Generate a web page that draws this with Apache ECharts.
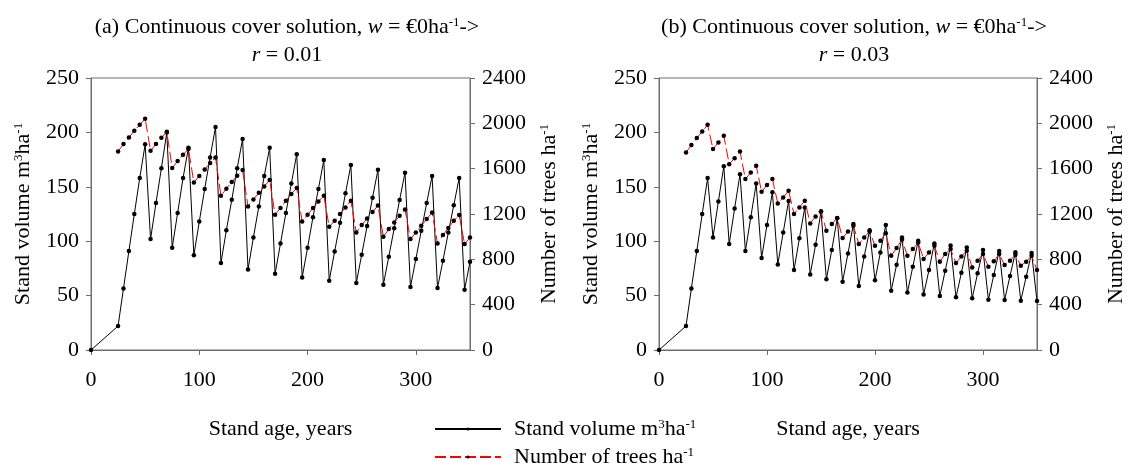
<!DOCTYPE html>
<html>
<head>
<meta charset="utf-8">
<script src="https://cdn.jsdelivr.net/npm/echarts@6/dist/echarts.min.js"></script>
<style>html,body{margin:0;padding:0;background:#fff;}#c{width:1138px;height:468px;}</style>
</head>
<body>
<div id="c"></div>
<script>
// Stand age (years) for the number-of-trees series
const ages = [25,30,35,40,45,50,55,60,65,70,75,80,85,90,95,100,105,110,115,120,125,130,135,140,145,150,155,160,165,170,175,180,185,190,195,200,205,210,215,220,225,230,235,240,245,250,255,260,265,270,275,280,285,290,295,300,305,310,315,320,325,330,335,340,345,350];
// Stand age (years) for the volume series (starts at 0)
const agesVol = [0,25,30,35,40,45,50,55,60,65,70,75,80,85,90,95,100,105,110,115,120,125,130,135,140,145,150,155,160,165,170,175,180,185,190,195,200,205,210,215,220,225,230,235,240,245,250,255,260,265,270,275,280,285,290,295,300,305,310,315,320,325,330,335,340,345,350];

// (a) r = 0.01
const volA = [0,22,56.6,91,125,158,189,102,135,167,200,94,126,158,186,87,118,148,177,205,80,110,138,167,194,74,103.5,132,160,186,70,98,126,153,180,66.7,94,122,148,174.6,63.7,90.6,117,144,170,61.6,87.6,114,140,165.7,60,85.8,111.8,137.9,163,58,83.6,109.6,135,160,57,82,108,133,158,55.4,81];
const treesA = [1752,1817,1875,1934,1987,2040,1758,1817,1872,1925,1605,1667,1722,1773,1478,1535,1593,1649,1699,1361,1423,1482,1537,1588,1267,1328,1387,1443,1499,1193,1252,1317,1376,1429,1134,1193,1252,1311,1361,1087,1140,1199,1258,1317,1037,1102,1161,1217,1275,999,1067,1125,1184,1240,979,1037,1096,1155,1214,940,1014,1076,1140,1191,935,993];

// (b) r = 0.03
const volB = [0,22,56.6,91,125,158,103.5,136.6,168.8,97.4,130,161.5,91,122,153,84.5,115,145,78.6,108,137,73.5,102.6,131,69.5,96.8,127,65,92,121,62.8,88.8,115.8,58.8,86,110,64,89.7,115,54.5,78.4,103.5,52.8,76.5,100.5,51,73.5,98,49.6,72.9,96,48.4,71,94.3,47.5,70.5,92,46.2,69,91,46,68,89.8,45.3,67.4,89.2,45];
const treesB = [1743,1808,1870,1928,1987,1773,1831,1890,1640,1693,1752,1508,1566,1625,1396,1455,1508,1293,1346,1405,1200,1258,1317,1117,1178,1225,1052,1111,1165,988,1046,1096,935,993,1046,920,964,1030,832,900,975,832,891,949,803,861,920,779,847,891,767,826,876,729,788,847,735,782,847,750,788,841,744,779,832,705];

// axis settings / tick labels
const xTicks = {min: 0, max: 350, interval: 100};
const volTicks = {min: 0, max: 250, interval: 50};
const treeTicks = {min: 0, max: 2400, interval: 400};

const FONT = 'Liberation Serif';
const FS = 22;
const AX = '#6e6e6e';
const rich = {
  n: {fontFamily: FONT, fontSize: FS, color: '#000', fontWeight: 'normal'},
  i: {fontFamily: FONT, fontSize: FS, color: '#000', fontStyle: 'italic', fontWeight: 'normal'},
  s: {fontFamily: FONT, fontSize: 13, color: '#000', verticalAlign: 'top', fontWeight: 'normal'}
};

function pairs(x, y) { return x.map((v, k) => [v, y[k]]); }

const grids = [
  {left: 91, right: 668, top: 78, bottom: 118},
  {left: 659, right: 101, top: 78, bottom: 118}
];

const labelStyle = {fontFamily: FONT, fontSize: FS, color: '#000', margin: 12};

function xAxis(gi) {
  return {
    type: 'value', gridIndex: gi, min: xTicks.min, max: xTicks.max, interval: xTicks.interval,
    name: 'Stand age, years', nameLocation: 'middle', nameGap: 68,
    nameTextStyle: {fontFamily: FONT, fontSize: FS, color: '#000'},
    axisLine: {show: true, onZero: false, lineStyle: {color: AX, width: 1}},
    axisTick: {show: true, length: 5, lineStyle: {color: AX}},
    axisLabel: Object.assign({showMaxLabel: false, formatter: v => String(v)}, labelStyle, {margin: 19}),
    splitLine: {show: false}
  };
}
function yVol(gi) {
  return {
    type: 'value', gridIndex: gi, position: 'left', min: volTicks.min, max: volTicks.max, interval: volTicks.interval,
    name: '{n|Stand volume m}{s|3}{n|ha}{s|-1}', nameLocation: 'middle', nameRotate: 90, nameGap: 57,
    nameTextStyle: {rich: rich},
    axisLine: {show: true, onZero: false, lineStyle: {color: AX, width: 1}},
    axisTick: {show: true, length: 5, lineStyle: {color: AX}},
    axisLabel: Object.assign({formatter: v => String(v)}, labelStyle),
    splitLine: {show: false}
  };
}
function yTrees(gi) {
  return {
    type: 'value', gridIndex: gi, position: 'right', min: treeTicks.min, max: treeTicks.max, interval: treeTicks.interval,
    name: '{n|Number of trees ha}{s|-1}', nameLocation: 'middle', nameRotate: 90, nameGap: 68,
    nameTextStyle: {rich: rich},
    axisLine: {show: true, onZero: false, lineStyle: {color: AX, width: 1}},
    axisTick: {show: true, length: 5, lineStyle: {color: AX}},
    axisLabel: Object.assign({formatter: v => String(v)}, labelStyle),
    splitLine: {show: false}
  };
}

function volSeries(xi, yi, data) {
  return {
    name: 'vol', type: 'line', xAxisIndex: xi, yAxisIndex: yi, data: data,
    symbol: 'circle', symbolSize: 4.5, showAllSymbol: true,
    lineStyle: {color: '#000', width: 1}, itemStyle: {color: '#000'}, z: 2
  };
}
function treeSeries(xi, yi, data) {
  return {
    name: 'trees', type: 'line', xAxisIndex: xi, yAxisIndex: yi, data: data,
    symbol: 'circle', symbolSize: 4.5, showAllSymbol: true,
    lineStyle: {color: '#ff0000', width: 1, type: [11, 4]}, itemStyle: {color: '#000'}, z: 3
  };
}

function legendFor(name, label, top) {
  return {
    left: 429, top: top, orient: 'horizontal', itemWidth: 66, itemHeight: 4,
    data: [name], selectedMode: false,
    formatter: () => label,
    textStyle: {rich: rich, padding: [0, 0, 0, 8]}
  };
}

const chart = echarts.init(document.getElementById('c'), null, {renderer: 'canvas'});
chart.setOption({
  animation: false,
  backgroundColor: '#fff',
  title: [
    {text: '{n|(a) Continuous cover solution, }{i|w}{n| = €0ha}{s|-1}{n|->}', left: 282, top: 11, textAlign: 'center', textStyle: {rich: rich, fontWeight: 'normal'}},
    {text: '{i|r}{n| = 0.01}', left: 282, top: 39, textAlign: 'center', textStyle: {rich: rich, fontWeight: 'normal'}},
    {text: '{n|(b) Continuous cover solution, }{i|w}{n| = €0ha}{s|-1}{n|->}', left: 849, top: 11, textAlign: 'center', textStyle: {rich: rich, fontWeight: 'normal'}},
    {text: '{i|r}{n| = 0.03}', left: 849, top: 39, textAlign: 'center', textStyle: {rich: rich, fontWeight: 'normal'}}
  ],
  legend: [
    legendFor('vol', '{n|Stand volume m}{s|3}{n|ha}{s|-1}', 413),
    legendFor('trees', '{n|Number of trees ha}{s|-1}', 441)
  ],
  grid: grids.map(g => Object.assign({show: true, borderColor: AX, borderWidth: 1, backgroundColor: 'transparent'}, g)),
  xAxis: [xAxis(0), xAxis(1)],
  yAxis: [yVol(0), yTrees(0), yVol(1), yTrees(1)],
  series: [
    volSeries(0, 0, pairs(agesVol, volA)),
    treeSeries(0, 1, pairs(ages, treesA)),
    volSeries(1, 2, pairs(agesVol, volB)),
    treeSeries(1, 3, pairs(ages, treesB))
  ]
});
</script>
</body>
</html>
